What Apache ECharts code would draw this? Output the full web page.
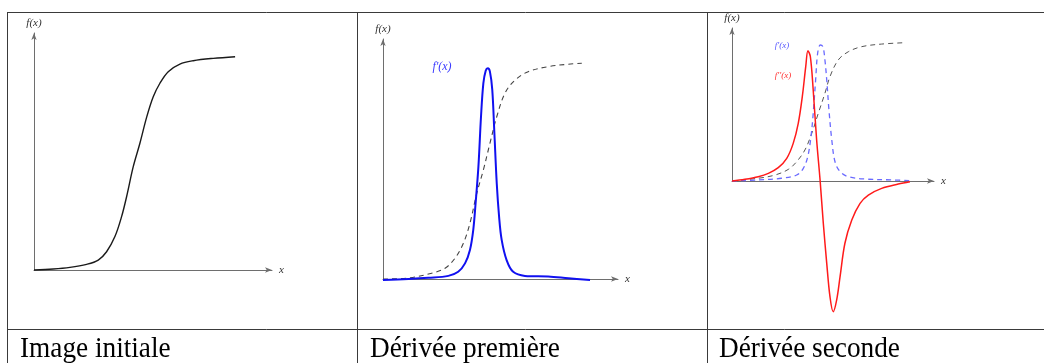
<!DOCTYPE html>
<html>
<head>
<meta charset="utf-8">
<script src="https://cdn.jsdelivr.net/npm/echarts@6/dist/echarts.min.js"></script>
<style>html,body{margin:0;padding:0;background:#fff}#c{width:1044px;height:363px}</style>
</head>
<body>
<div id="c"></div>
<script>
// ---- data (arbitrary units, x 0..100, y 0..100) ----
const captions = ['Image initiale', 'Dérivée première', 'Dérivée seconde'];
const axisNameY = 'f(x)';
const axisNameX = 'x';
const labelFirst = "f'(x)";
const labelSecond = "f''(x)";

// Panel 1 : sigmoid f(x)
const p1Sigmoid = [[0,0],[8.1,0.4],[15.1,1.1],[22.1,2.4],[27.0,4.2],[30.5,7.7],[34.0,14.1],[36.8,22.5],[38.9,30.9],[41.7,43.6],[44.5,53.5],[47.4,64.7],[50.1,73.1],[52.9,78.8],[56.4,83.7],[61.3,86.9],[66.9,88.3],[75.3,89.3],[84.5,90.0]];

// Panel 2 : first derivative + dashed sigmoid
const p2Deriv1 = [[0,-0.4],[10.8,0],[19.3,0.5],[27.8,1.3],[32.0,3.0],[34.9,6.5],[37.0,12.1],[38.4,20.4],[39.4,31.5],[40.6,46.8],[41.7,67.6],[42.7,81.5],[43.7,86.8],[44.6,87.8],[45.5,86.4],[46.5,78.8],[47.4,60.7],[48.4,39.9],[49.4,26.0],[50.5,16.3],[52.6,7.9],[55.4,3.0],[60.4,1.3],[70.3,1.0],[78.9,0.3],[88.1,-0.4]];
const p2Sigmoid = [[0,0],[10.6,0.4],[20.7,2.4],[26.4,4.5],[30.6,8.6],[34.2,14.9],[37.0,23.2],[39.9,35.7],[42.7,45.4],[45.5,56.5],[48.4,67.6],[51.9,77.4],[56.2,82.9],[61.8,86.4],[70.3,88.5],[78.9,89.5],[84.6,89.9]];

// Panel 3 : second derivative + dashed first derivative + dashed sigmoid
const p3Deriv2 = [[0,0],[6.4,1.1],[13.0,2.8],[18.0,5.0],[22.9,8.7],[27.1,14.8],[30.3,24.6],[32.8,37.7],[34.8,55.1],[36.5,74.7],[37.6,85.2],[38.8,81.2],[40.2,59.5],[41.9,26.8],[43.6,0.7],[45.2,-27.6],[46.9,-53.8],[48.5,-75.6],[50.1,-85.4],[51.8,-77.8],[53.5,-62.5],[55.9,-40.7],[59.3,-25.5],[63.4,-14.6],[67.5,-9.2],[74.1,-4.8],[82.3,-2.0],[88.1,-0.5]];
const p3Deriv1 = [[0,0],[13.0,0.7],[24.6,1.8],[32.0,3.9],[35.3,8.3],[37.5,15.9],[39.1,29.0],[40.2,44.2],[41.4,66.0],[42.4,83.5],[43.7,88.9],[45.0,87.8],[46.0,79.1],[46.9,66.0],[48.0,46.4],[49.4,26.8],[51.0,12.6],[53.5,6.1],[57.6,2.8],[65.8,1.3],[79.1,0.7],[88.1,0.2]];
const p3Sigmoid = [[0,0],[13.0,1.8],[21.3,3.9],[27.9,7.6],[32.0,12.6],[36.1,20.3],[39.5,31.2],[42.7,44.2],[46.0,57.3],[48.5,68.2],[52.6,79.1],[57.6,84.5],[64.2,87.8],[74.1,89.5],[85.6,90.4]];
const p3RedMin = -90;

// ---- chart ----
const serif = '"Liberation Serif", "Times New Roman", serif';
const axisColor = '#6e6e6e';

function xAx(gi, show) {
  return {
    type: 'value', gridIndex: gi, min: 0, max: 100, show: show,
    name: show ? axisNameX : '', nameLocation: 'end', nameGap: 7,
    nameTextStyle: { fontFamily: serif, fontStyle: 'italic', fontSize: 11, color: '#333' },
    axisLine: { show: true, onZero: false, symbol: ['none', 'arrow'], symbolSize: [4, 7], lineStyle: { color: axisColor, width: 1 } },
    axisTick: { show: false }, axisLabel: { show: false }, splitLine: { show: false }
  };
}
function yAx(gi, show, min) {
  return {
    type: 'value', gridIndex: gi, min: min, max: 100, show: show,
    name: show ? axisNameY : '', nameLocation: 'end', nameGap: 4,
    nameTextStyle: { fontFamily: serif, fontStyle: 'italic', fontSize: 11, color: '#333' },
    axisLine: { show: true, onZero: false, symbol: ['none', 'arrow'], symbolSize: [4, 7], lineStyle: { color: axisColor, width: 1 } },
    axisTick: { show: false }, axisLabel: { show: false }, splitLine: { show: false }
  };
}
function ser(data, gi, color, width, dashed, z) {
  return {
    type: 'line', xAxisIndex: gi, yAxisIndex: gi, data: data, showSymbol: false, symbol: 'none',
    smooth: 0.35, clip: false, silent: true, animation: false, z: z || 2,
    lineStyle: { color: color, width: width, type: dashed ? [5, 4] : 'solid' }
  };
}

const border = '#3a3a3a';
const gLines = [
  [7, 12.5, 1044, 12.5], [7, 329.5, 1044, 329.5],
  [7.5, 12, 7.5, 363], [357.5, 12, 357.5, 363], [707.5, 12, 707.5, 363]
].map(l => ({ type: 'line', shape: { x1: l[0], y1: l[1], x2: l[2], y2: l[3] }, style: { stroke: border, lineWidth: 1 }, silent: true }));

const capX = [20, 370, 719];
const gCaps = captions.map((t, i) => ({
  type: 'text', x: capX[i], y: 335, scaleX: 0.94, silent: true,
  style: { text: t, font: '29px ' + serif, fill: '#000', verticalAlign: 'top', align: 'left' }
}));
const gLabels = [
  { type: 'text', x: 442, y: 67, silent: true, style: { text: labelFirst, font: 'italic 12px ' + serif, fill: '#3a3aff', align: 'center', verticalAlign: 'middle' } },
  { type: 'text', x: 782, y: 46, silent: true, style: { text: labelFirst, font: 'italic 9px ' + serif, fill: '#5555ff', align: 'center', verticalAlign: 'middle' } },
  { type: 'text', x: 783, y: 76, silent: true, style: { text: labelSecond, font: 'italic 9px ' + serif, fill: '#ff3030', align: 'center', verticalAlign: 'middle' } }
];

const option = {
  animation: false,
  backgroundColor: '#fff',
  grid: [
    { left: 34, top: 33, width: 238, height: 237 },
    { left: 383, top: 39, width: 235, height: 240 },
    { left: 732, top: 28, width: 202, height: 153 },
    { left: 732, top: 28, width: 202, height: 153 * (100 - p3RedMin) / 100 }
  ],
  xAxis: [xAx(0, true), xAx(1, true), xAx(2, true), xAx(3, false)],
  yAxis: [yAx(0, true, 0), yAx(1, true, 0), yAx(2, true, 0), yAx(3, false, p3RedMin)],
  series: [
    ser(p1Sigmoid, 0, '#1a1a1a', 1.4, false),
    ser(p2Sigmoid, 1, '#444', 1.1, true),
    ser(p2Deriv1, 1, '#1010f0', 2, false, 3),
    ser(p3Sigmoid, 2, '#555', 1, true),
    ser(p3Deriv1, 2, '#6a6aff', 1.3, true),
    ser(p3Deriv2, 3, '#ff1a1a', 1.5, false, 3)
  ],
  graphic: gLines.concat(gCaps, gLabels)
};

const chart = echarts.init(document.getElementById('c'), null, { renderer: 'canvas' });
chart.setOption(option);
</script>
</body>
</html>
